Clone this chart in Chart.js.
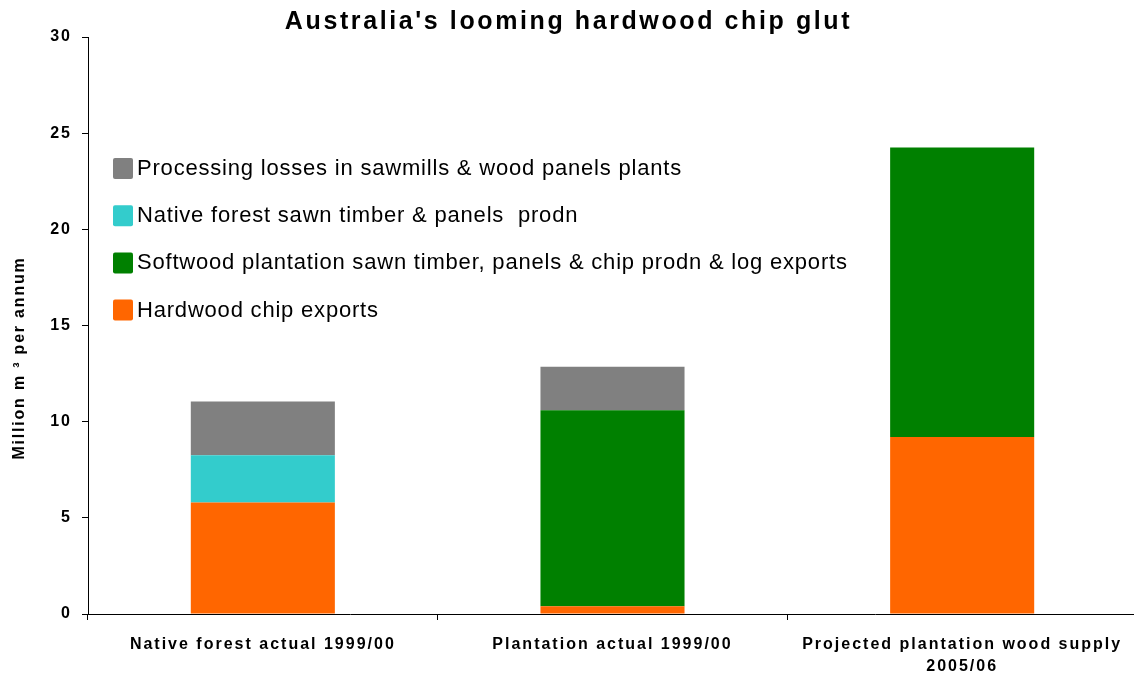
<!DOCTYPE html>
<html>
<head>
<meta charset="utf-8">
<script src="https://cdn.jsdelivr.net/npm/chart.js@4/dist/chart.umd.min.js"></script>
<style>
  html, body { margin: 0; padding: 0; background: #fff; overflow: hidden; }
  #wrap { width: 1137px; height: 681px; }
</style>
</head>
<body>
<div id="wrap"><canvas id="c" width="1137" height="681"></canvas></div>
<script>
const categories = [
  "Native forest actual 1999/00",
  "Plantation actual 1999/00",
  ["Projected plantation wood supply", "2005/06"]
];
const hardwoodChip = [5.8, 0.4, 9.2];
const softwoodPlantation = [0, 10.2, 15.05];
const nativeSawn = [2.45, 0, 0];
const processingLosses = [2.8, 2.25, 0];
const yTicks = [0, 5, 10, 15, 20, 25, 30];
const yTitle = "Million m ³ per annum";

const seriesNames = [
  "Hardwood chip exports",
  "Softwood plantation sawn timber, panels & chip prodn & log exports",
  "Native forest sawn timber & panels  prodn",
  "Processing losses in sawmills & wood panels plants"
];
const seriesColors = ["#FF6600", "#008000", "#33CCCC", "#808080"];

const canvas = document.getElementById('c');
const ctx = canvas.getContext('2d');
const origFill = ctx.fillText.bind(ctx);
ctx.fillText = function(t, x, y, mw) {
  const f = ctx.font || '';
  if (f.indexOf('25px') >= 0) ctx.letterSpacing = '2.6px';
  else if (f.indexOf('bold') >= 0 || f.indexOf('700') >= 0) ctx.letterSpacing = '2px';
  else ctx.letterSpacing = '0px';
  if (mw === undefined) origFill(t, x, y); else origFill(t, x, y, mw);
};

const legendPlugin = {
  id: 'insideLegend',
  afterDraw(chart) {
    const c = chart.ctx;
    const area = chart.chartArea;
    const ds = chart.data.datasets.slice().reverse();
    c.save();
    c.font = '22px "Liberation Sans", Arial, sans-serif';
    c.textBaseline = 'middle';
    c.textAlign = 'left';
    ds.forEach((d, i) => {
      const cy = area.top + 131 + i * 47.2;
      c.fillStyle = d.backgroundColor;
      c.beginPath();
      c.roundRect(area.left + 25, cy - 10, 20, 21, 2);
      c.fill();
      c.fillStyle = '#000';
      c.letterSpacing = '0.8px';
      origFill(d.label, area.left + 49, cy + 1);
    });
    // y-axis title
    c.translate(20, 358);
    c.rotate(-Math.PI / 2);
    c.font = 'bold 16px "Liberation Sans", Arial, sans-serif';
    c.textAlign = 'center';
    c.textBaseline = 'middle';
    c.letterSpacing = '1.8px';
    origFill(yTitle, 0, 0);
    c.restore();
  }
};

new Chart(ctx, {
  type: 'bar',
  data: {
    labels: categories,
    datasets: [
      { label: seriesNames[0], data: hardwoodChip, backgroundColor: seriesColors[0] },
      { label: seriesNames[1], data: softwoodPlantation, backgroundColor: seriesColors[1] },
      { label: seriesNames[2], data: nativeSawn, backgroundColor: seriesColors[2] },
      { label: seriesNames[3], data: processingLosses, backgroundColor: seriesColors[3] }
    ]
  },
  options: {
    responsive: false,
    animation: false,
    layout: { padding: { left: 0, right: 0, top: 0, bottom: 0 } },
    datasets: { bar: { barPercentage: 0.412, categoryPercentage: 1.0, borderWidth: 0 } },
    plugins: {
      legend: { display: false },
      tooltip: { enabled: false },
      title: {
        display: true,
        text: "Australia's looming hardwood chip glut",
        color: '#000',
        font: { family: '"Liberation Sans", Arial, sans-serif', size: 25, weight: 'bold', lineHeight: 1.2 },
        padding: { top: 7, bottom: 0 }
      }
    },
    scales: {
      x: {
        stacked: true,
        afterFit(scale) { scale.height = 67; },
        grid: { drawOnChartArea: false, tickLength: 6, color: '#000', offset: true },
        border: { color: '#000', width: 1 },
        ticks: {
          color: '#000',
          padding: 14,
          maxRotation: 0,
          autoSkip: false,
          font: { family: '"Liberation Sans", Arial, sans-serif', size: 16, weight: 'bold', lineHeight: 1.35 }
        }
      },
      y: {
        stacked: true,
        min: 0,
        max: 30,
        afterFit(scale) { scale.width = 88; },
        afterBuildTicks(scale) { scale.ticks = yTicks.map(v => ({ value: v })); },
        grid: { drawOnChartArea: false, tickLength: 6, color: '#000' },
        border: { color: '#000', width: 1 },
        ticks: {
          color: '#000',
          padding: 10,
          font: { family: '"Liberation Sans", Arial, sans-serif', size: 16, weight: 'bold' }
        },
        title: { display: false }
      }
    }
  },
  plugins: [legendPlugin]
});
</script>
</body>
</html>
